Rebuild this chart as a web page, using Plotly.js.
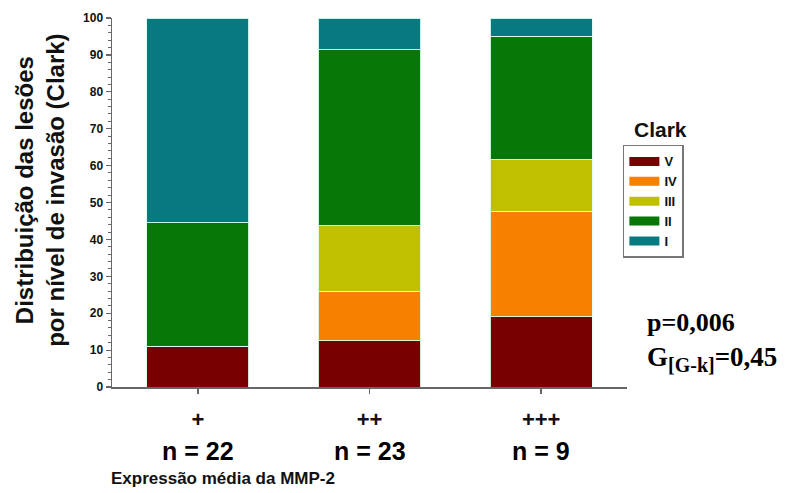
<!DOCTYPE html>
<html>
<head>
<meta charset="utf-8">
<script src="https://cdn.plot.ly/plotly-3.0.1.min.js"></script>
<style>
  html, body { margin: 0; padding: 0; background: #fff; }
  #chart { width: 797px; height: 493px; }
</style>
</head>
<body>
<div id="chart"></div>
<script>
// ---- data ----
const categories = ["+", "++", "+++"];
const nCounts = ["n = 22", "n = 23", "n = 9"];
const clarkLevels = ["V", "IV", "III", "II", "I"];
const valuesV   = [11.0, 12.6, 19.0];
const valuesIV  = [0.0, 13.2, 28.5];
const valuesIII = [0.0, 17.9, 14.2];
const valuesII  = [33.5, 47.7, 33.4];
const valuesI   = [55.5, 8.6, 4.9];
const yTitle = "Distribuição das lesões<br>por nível de invasão (Clark)";
const xTitle = "Expressão média da MMP-2";
const legendTitle = "Clark";
const statsP = "p=0,006";
const statsG = ["G", "[G-k]", "=0,45"];

const seriesValues = [valuesV, valuesIV, valuesIII, valuesII, valuesI];
const colors = ["#780000", "#f88000", "#c0c000", "#077807", "#077a80"];

const traces = clarkLevels.map((name, i) => ({
  type: "bar",
  name: name,
  legendgroup: name,
  showlegend: false,
  x: categories,
  y: seriesValues[i],
  width: 0.595,
  marker: { color: colors[i], line: { color: "rgba(220,255,240,0.9)", width: 1 } },
  hoverinfo: "skip"
}));
// legend-only entries drawn as wide swatches
clarkLevels.forEach((name, i) => traces.push({
  type: "scatter", mode: "lines", name: "<b>" + name + "</b>", legendgroup: name,
  x: [null], y: [null],
  line: { color: colors[i], width: 9 },
  hoverinfo: "skip"
}));

const F = "Liberation Sans, Arial, sans-serif";
const annotations = [];
nCounts.forEach((t, i) => annotations.push({
  x: categories[i], y: 0, xref: "x", yref: "paper",
  yanchor: "middle", yshift: -64, text: "<b>" + t + "</b>", showarrow: false,
  font: { family: F, size: 25, color: "#000" }
}));
annotations.push({
  x: -0.005, xref: "paper", y: 0, yref: "paper", yanchor: "middle", yshift: -91,
  xanchor: "left", text: "<b>" + xTitle + "</b>", showarrow: false,
  font: { family: F, size: 17, color: "#111" }
});
annotations.push({
  x: -0.14, xref: "paper", y: 0.534, yref: "paper",
  xanchor: "center", yanchor: "middle", textangle: -90,
  text: "<b>" + yTitle + "</b>", showarrow: false,
  font: { family: F, size: 24, color: "#111" }
});
annotations.push({
  x: 1.065, xref: "paper", y: 0.699, yref: "paper",
  xanchor: "center", yanchor: "middle",
  text: "<b>" + legendTitle + "</b>", showarrow: false,
  font: { family: F, size: 21, color: "#111" }
});
annotations.push({
  x: 1.035, xref: "paper", y: 0.175, yref: "paper",
  xanchor: "left", yanchor: "middle", align: "left",
  text: "<b>" + statsP + "</b>", showarrow: false,
  font: { family: "Liberation Serif, Times New Roman, serif", size: 26, color: "#000" }
});
annotations.push({
  x: 1.035, xref: "paper", y: 0.075, yref: "paper",
  xanchor: "left", yanchor: "middle", align: "left",
  text: "<b>" + statsG[0] + "<sub><span style='font-size:20px'>" + statsG[1] + "</span></sub>" + statsG[2] + "</b>",
  showarrow: false,
  font: { family: "Liberation Serif, Times New Roman, serif", size: 27, color: "#000" }
});

const layout = {
  width: 797, height: 493,
  margin: { l: 112, r: 170, t: 18, b: 106 },
  paper_bgcolor: "#fff", plot_bgcolor: "#fff",
  barmode: "stack",
  bargap: 0.4,
  showlegend: true,
  legend: {
    x: 0.992, xanchor: "left", y: 0.656, yanchor: "top",
    bordercolor: "#777", borderwidth: 1.5,
    traceorder: "normal",
    font: { family: F, size: 13, color: "#111" },
    itemwidth: 30, tracegroupgap: 0
  },
  xaxis: {
    type: "category", range: [-0.5, 2.5],
    tickvals: categories, ticktext: categories.map(c => "<b>" + c + "</b>"),
    showline: true, linecolor: "#666", linewidth: 1.5,
    ticks: "outside", ticklen: 5, tickcolor: "#666", tickwidth: 1.5,
    showgrid: false, zeroline: false,
    tickfont: { family: F, size: 22, color: "#111" },
    ticklabelstandoff: 7
  },
  yaxis: {
    range: [0, 100], tickmode: "linear", tick0: 0, dtick: 10,
    showline: true, linecolor: "#666", linewidth: 1.5,
    ticks: "outside", ticklen: 5, tickcolor: "#666", tickwidth: 1.2,
    minor: { dtick: 2, ticks: "outside", ticklen: 3, tickcolor: "#666", tickwidth: 1 },
    showgrid: false, zeroline: false,
    tickfont: { family: F, size: 12, color: "#111", weight: 700 }
  },
  annotations: annotations
};

Plotly.newPlot("chart", traces, layout, { displayModeBar: false, staticPlot: true });
</script>
</body>
</html>
